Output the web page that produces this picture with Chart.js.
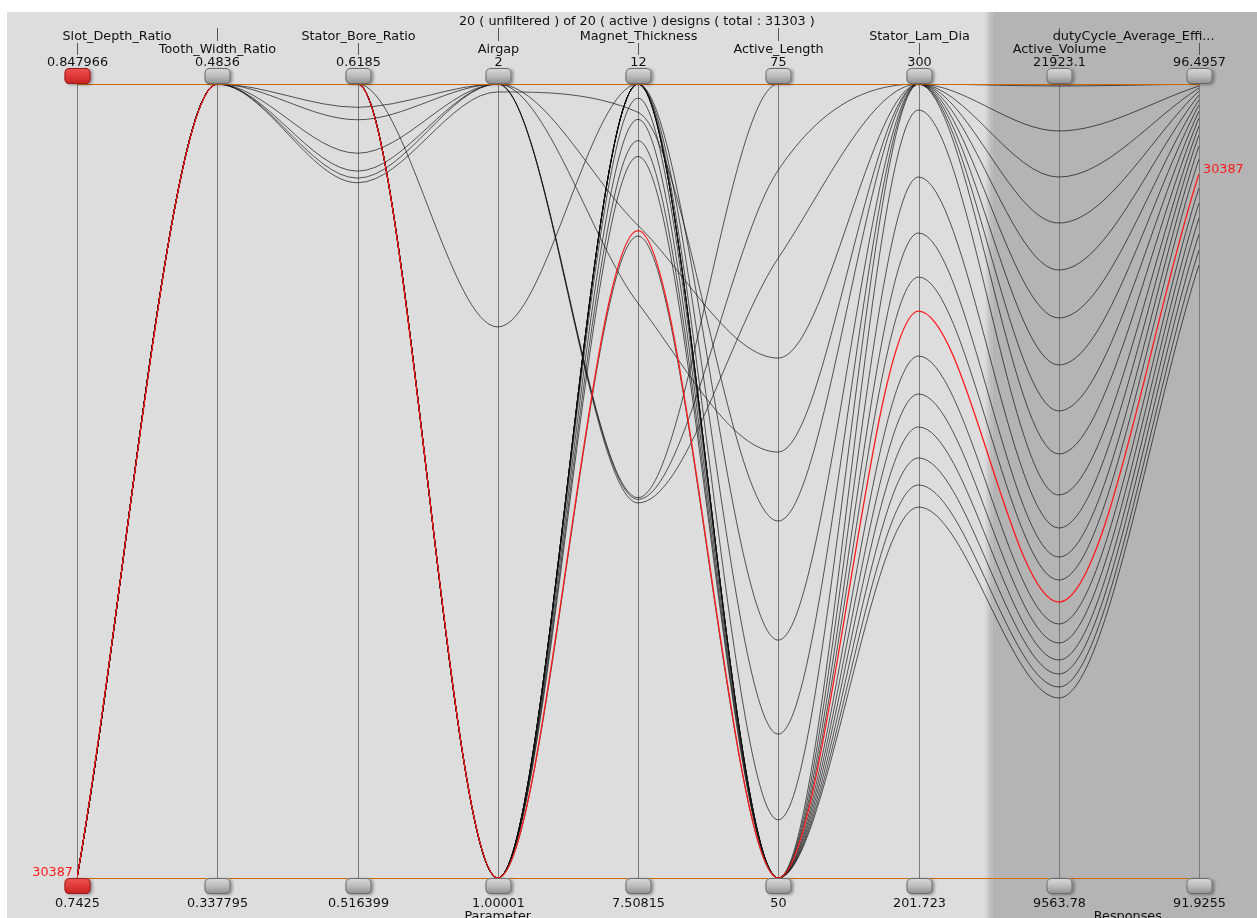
<!DOCTYPE html>
<html>
<head>
<meta charset="utf-8">
<title>Parallel coordinates</title>
<script src="https://cdn.jsdelivr.net/npm/chart.js@4.4.1/dist/chart.umd.min.js"></script>
<style>
  html, body { margin: 0; padding: 0; background: #fff; }
  #wrap { width: 1257px; height: 918px; position: relative; }
</style>
</head>
<body>
<div id="wrap"><canvas id="myChart"></canvas></div>
<script>
var title = '20 ( unfiltered ) of 20 ( active ) designs ( total : 31303 )';
var axisNames = ['Slot_Depth_Ratio', 'Tooth_Width_Ratio', 'Stator_Bore_Ratio', 'Airgap', 'Magnet_Thickness',
  'Active_Length', 'Stator_Lam_Dia', 'Active_Volume', 'dutyCycle_Average_Effi...'];
var axisTop = [0.847966, 0.4836, 0.6185, 2, 12, 75, 300, 21923.1, 96.4957];
var axisBottom = [0.7425, 0.337795, 0.516399, 1.00001, 7.50815, 50, 201.723, 9563.78, 91.9255];
var topLabels = ['0.847966', '0.4836', '0.6185', '2', '12', '75', '300', '21923.1', '96.4957'];
var bottomLabels = ['0.7425', '0.337795', '0.516399', '1.00001', '7.50815', '50', '201.723', '9563.78', '91.9255'];
var groupLabels = ['Parameter', 'Responses'];
var highlightId = '30387';   // design 0

// one entry per design (20), design 0 is the highlighted one
var slotDepth = [0.7425, 0.7425, 0.7425, 0.7425, 0.7425, 0.7425, 0.7425, 0.7425, 0.7425, 0.7425,
  0.7425, 0.7425, 0.7425, 0.7425, 0.7425, 0.7425, 0.7425, 0.7425, 0.7425, 0.7425];
var toothWidth = [0.4836, 0.4836, 0.4836, 0.4836, 0.4836, 0.4836, 0.4836, 0.4836, 0.4836, 0.4836,
  0.4836, 0.4836, 0.4836, 0.4836, 0.4836, 0.4836, 0.4836, 0.4836, 0.4836, 0.4836];
var statorBore = [0.6185, 0.6185, 0.6185, 0.6185, 0.6185, 0.6185, 0.6185, 0.6185, 0.6185, 0.6185,
  0.6185, 0.6155, 0.6139, 0.6096, 0.6073, 0.6064, 0.6058, 0.6185, 0.6185, 0.6185];
var airgap = [1.00001, 1.00001, 1.00001, 1.00001, 1.00001, 1.00001, 1.00001, 1.00001, 1.00001, 1.00001,
  1.00001, 2, 2, 2, 2, 2, 1.99, 1.00001, 1.00001, 1.694];
var magnet = [11.17, 12, 11.80, 12, 11.68, 11.14, 12, 11.92, 11.59, 12,
  12, 9.66, 9.65, 9.63, 11.20, 10.76, 11.84, 12, 12, 12];
var activeLength = [50, 50, 50, 50, 50, 50, 50, 50, 50, 50,
  50, 75, 72.29, 69.52, 66.37, 63.41, 61.24, 57.49, 54.53, 51.83];
var lamDia = [271.90, 296.78, 288.49, 281.56, 276.11, 266.33, 261.63, 257.55, 253.71, 250.37,
  247.64, 300, 300, 300, 300, 300, 300, 300, 300, 300];
var activeVolume = [13860, 15526, 15012, 14560, 14202, 13518, 13222, 12957, 12739, 12537,
  12366, 21892, 21192, 20475, 19759, 19028, 18281, 17549, 16833, 16164];
var efficiency = [95.978, 96.254, 96.202, 96.139, 96.064, 95.897, 95.811, 95.724, 95.632, 95.540,
  95.454, 96.4957, 96.484, 96.473, 96.455, 96.432, 96.404, 96.375, 96.340, 96.300];

var columns = [slotDepth, toothWidth, statorBore, airgap, magnet, activeLength, lamDia, activeVolume, efficiency];

var FONT = '"DejaVu Sans", Verdana, sans-serif';
var FONT_SIZE = '12.8px ';

// each design becomes a line; y is the value scaled into its own axis range (0 = bottom, 1 = top)
var datasets = slotDepth.map(function (v, d) {
  return {
    label: d === 0 ? highlightId : 'design ' + d,
    data: columns.map(function (col, k) {
      return { x: k, y: (col[d] - axisBottom[k]) / (axisTop[k] - axisBottom[k]) };
    }),
    borderColor: d === 0 ? '#ff1a1a' : 'rgba(15,15,15,0.68)',
    borderWidth: d === 0 ? 1.3 : 1,
    pointRadius: 0,
    fill: false,
    cubicInterpolationMode: 'monotone'
  };
});

function roundRect(ctx, x, y, w, h, r) {
  ctx.beginPath();
  ctx.moveTo(x + r, y);
  ctx.lineTo(x + w - r, y);
  ctx.quadraticCurveTo(x + w, y, x + w, y + r);
  ctx.lineTo(x + w, y + h - r);
  ctx.quadraticCurveTo(x + w, y + h, x + w - r, y + h);
  ctx.lineTo(x + r, y + h);
  ctx.quadraticCurveTo(x, y + h, x, y + h - r);
  ctx.lineTo(x, y + r);
  ctx.quadraticCurveTo(x, y, x + r, y);
  ctx.closePath();
}

function handle(ctx, cx, y, red) {
  var w = 26, h = 16, x = cx - w / 2;
  ctx.save();
  ctx.shadowColor = 'rgba(0,0,0,0.35)';
  ctx.shadowBlur = 3;
  ctx.shadowOffsetX = 2;
  ctx.shadowOffsetY = 1;
  var g = ctx.createLinearGradient(0, y, 0, y + h);
  if (red) {
    g.addColorStop(0, '#ee5555');
    g.addColorStop(0.5, '#e03838');
    g.addColorStop(1, '#c62222');
  } else {
    g.addColorStop(0, '#dadada');
    g.addColorStop(0.5, '#bcbcbc');
    g.addColorStop(1, '#8e8e8e');
  }
  roundRect(ctx, x, y, w, h, 5);
  ctx.fillStyle = g;
  ctx.fill();
  ctx.restore();
  roundRect(ctx, x + 0.5, y + 0.5, w - 1, h - 1, 5);
  ctx.strokeStyle = red ? '#9a2020' : '#6a6a6a';
  ctx.lineWidth = 1;
  ctx.stroke();
}

var parallelPlugin = {
  id: 'parallel',
  beforeDraw: function (chart) {
    var ctx = chart.ctx;
    var xs = chart.scales.x, ys = chart.scales.y;
    var top = ys.getPixelForValue(1), bottom = ys.getPixelForValue(0);
    var W = chart.width, H = chart.height;
    ctx.save();
    ctx.fillStyle = '#ffffff';
    ctx.fillRect(0, 0, W, H);
    ctx.fillStyle = '#dddddd';
    ctx.fillRect(7, 12, W - 7, H - 12);
    // response section shading starts halfway between the last parameter and first response
    var split = (xs.getPixelForValue(6) + xs.getPixelForValue(7)) / 2;
    var g = ctx.createLinearGradient(split - 4, 0, split + 4, 0);
    g.addColorStop(0, '#dddddd');
    g.addColorStop(1, '#b4b4b4');
    ctx.fillStyle = g;
    ctx.fillRect(split - 4, 12, 8, H - 12);
    ctx.fillStyle = '#b4b4b4';
    ctx.fillRect(split + 4, 12, W - split - 4, H - 12);

    // vertical axes
    ctx.strokeStyle = '#7a7a7a';
    ctx.lineWidth = 1;
    for (var k = 0; k < axisNames.length; k++) {
      var x = Math.round(xs.getPixelForValue(k)) + 0.5;
      ctx.beginPath();
      ctx.moveTo(x, top);
      ctx.lineTo(x, bottom + 4);
      ctx.stroke();
    }

    // header texts
    ctx.fillStyle = '#111';
    ctx.font = FONT_SIZE + FONT;
    ctx.textBaseline = 'middle';
    ctx.textAlign = 'center';
    ctx.fillText(title, (xs.getPixelForValue(4) + xs.getPixelForValue(3)) / 2 + 69, 22);
    for (k = 0; k < axisNames.length; k++) {
      x = Math.round(xs.getPixelForValue(k)) + 0.5;
      var upper = (k % 2 === 0);
      var ny = upper ? 36.5 : 50;
      ctx.textAlign = 'center';
      var tx = x;
      if (k === 0) { ctx.textAlign = 'left'; tx = x - 15; }
      if (k === axisNames.length - 1) { ctx.textAlign = 'right'; tx = x + 15; }
      ctx.fillText(axisNames[k], tx, ny);
      ctx.beginPath();
      if (upper) { ctx.moveTo(x, 43); ctx.lineTo(x, 55); }
      else { ctx.moveTo(x, 28); ctx.lineTo(x, 41); }
      ctx.strokeStyle = '#555';
      ctx.stroke();
      ctx.textAlign = 'center';
      ctx.fillText(topLabels[k], x, 63);
      ctx.fillText(bottomLabels[k], x, 904);
    }
    ctx.fillText(groupLabels[0], xs.getPixelForValue(3), 917);
    ctx.fillText(groupLabels[1], (split + W) / 2 + 5, 917);
    ctx.restore();
  },
  afterDatasetsDraw: function (chart) {
    var ctx = chart.ctx;
    var xs = chart.scales.x, ys = chart.scales.y;
    var top = Math.round(ys.getPixelForValue(1)), bottom = Math.round(ys.getPixelForValue(0));
    var left = xs.getPixelForValue(0), right = xs.getPixelForValue(8);
    ctx.save();
    ctx.strokeStyle = '#cc6a00';
    ctx.lineWidth = 1;
    ctx.beginPath();
    ctx.moveTo(left, top + 0.5); ctx.lineTo(right, top + 0.5);
    ctx.moveTo(left, bottom + 0.5); ctx.lineTo(right, bottom + 0.5);
    ctx.stroke();
    for (var k = 0; k < axisNames.length; k++) {
      var x = Math.round(xs.getPixelForValue(k)) + 0.5;
      handle(ctx, x, top - 16, k === 0);
      handle(ctx, x, bottom, k === 0);
    }
    // id of the highlighted design at both ends of its line
    var pts = chart.getDatasetMeta(0).data;
    ctx.fillStyle = '#ff1a1a';
    ctx.font = FONT_SIZE + FONT;
    ctx.textBaseline = 'middle';
    ctx.textAlign = 'right';
    ctx.fillText(highlightId, pts[0].x - 4, pts[0].y - 5);
    ctx.textAlign = 'left';
    var last = pts[pts.length - 1];
    ctx.fillText(highlightId, last.x + 4, last.y - 4);
    ctx.restore();
  }
};

var ctx = document.getElementById('myChart').getContext('2d');
var myChart = new Chart(ctx, {
  type: 'line',
  data: { datasets: datasets },
  options: {
    responsive: true,
    maintainAspectRatio: false,
    animation: false,
    events: [],
    layout: { padding: { left: 77, right: 58, top: 84, bottom: 40 } },
    scales: {
      x: { type: 'linear', min: 0, max: 8, display: false },
      y: { type: 'linear', min: 0, max: 1, display: false }
    },
    plugins: { legend: { display: false }, tooltip: { enabled: false } }
  },
  plugins: [parallelPlugin]
});
</script>
</body>
</html>
